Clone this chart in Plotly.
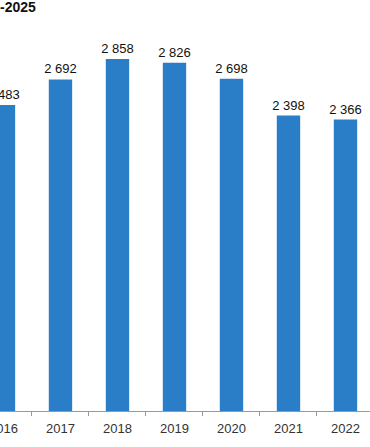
import plotly.graph_objects as go

years = ["2016", "2017", "2018", "2019", "2020", "2021", "2022"]
values = [2483, 2692, 2858, 2826, 2698, 2398, 2366]
title_text = "-2025"

labels = [f"{v:,}".replace(",", " ") for v in values]

fig = go.Figure(go.Bar(
    x=years, y=values, text=labels, textposition="outside",
    marker=dict(color="#2a7ec8", line=dict(width=0)),
    textfont=dict(family="Liberation Sans, Arial", size=13, color="#111"),
    cliponaxis=False, width=0.41, constraintext="none",
))
fig.update_layout(
    template="none",
    width=370, height=447,
    margin=dict(l=0, r=0, t=20, b=36, pad=0),
    paper_bgcolor="white", plot_bgcolor="white",
    showlegend=False,
    title=dict(text="<b>" + title_text + "</b>", x=0, xref="paper", xanchor="left",
               y=1, yref="container", yanchor="top", pad=dict(t=2, l=0),
               font=dict(family="Liberation Sans, Arial", size=14, color="#111")),
    xaxis=dict(type="category", range=[-0.061, 6.43], showline=True, linecolor="#999",
               linewidth=1, ticks="outside", tickson="boundaries", ticklen=4,
               tickcolor="#999", showgrid=False, automargin=False, zeroline=False,
               ticklabelstandoff=5,
               tickfont=dict(family="Liberation Sans, Arial", size=13, color="#333")),
    yaxis=dict(visible=False, range=[0, 3174], showgrid=False, automargin=False,
               zeroline=False),
)
fig.write_html("out.html")
